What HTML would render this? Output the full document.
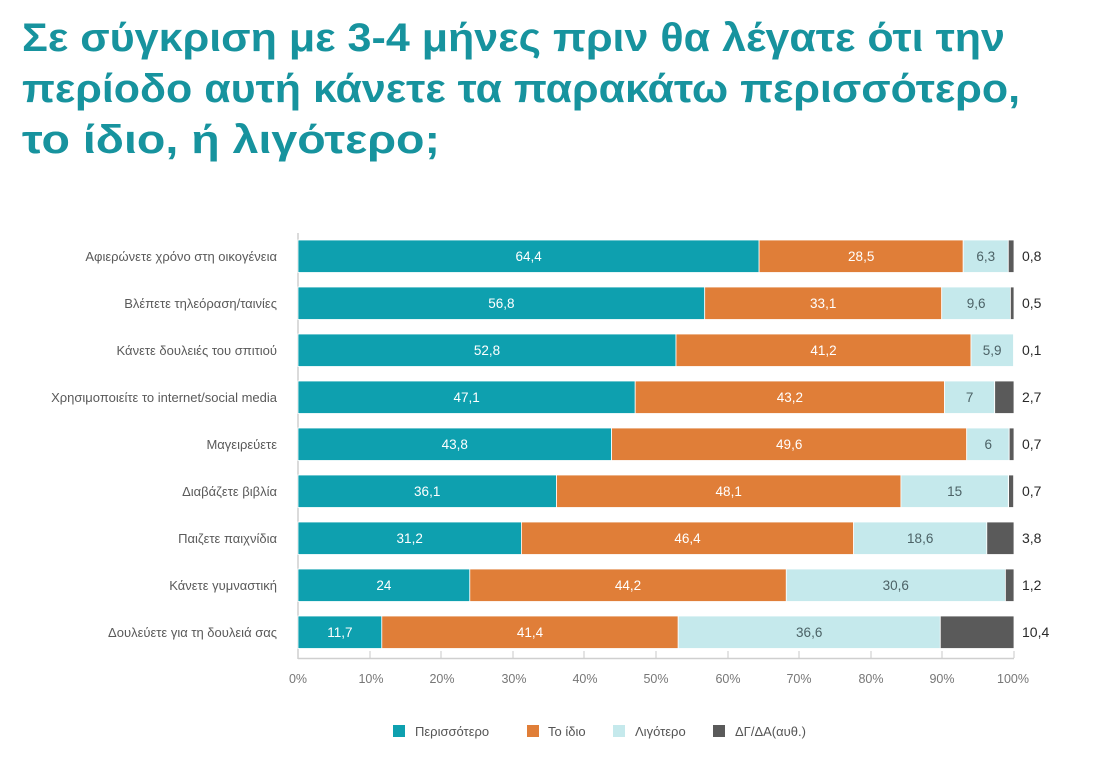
<!DOCTYPE html>
<html>
<head>
<meta charset="utf-8">
<style>
html,body{margin:0;padding:0;background:#fff;}
svg{display:block;}
text{font-family:"Liberation Sans","DejaVu Sans",sans-serif;}
</style>
</head>
<body>
<svg width="1099" height="771" viewBox="0 0 1099 771" xmlns="http://www.w3.org/2000/svg">
<rect width="1099" height="771" fill="#fff"/>
<!-- Title -->
<g fill="#17939E" font-weight="bold" font-size="40">
<text x="22" y="51" textLength="983" lengthAdjust="spacingAndGlyphs">Σε σύγκριση με 3-4 μήνες πριν θα λέγατε ότι την</text>
<text x="22" y="102" textLength="998" lengthAdjust="spacingAndGlyphs">περίοδο αυτή κάνετε τα παρακάτω περισσότερο,</text>
<text x="22" y="153" textLength="418" lengthAdjust="spacingAndGlyphs">το ίδιο, ή λιγότερο;</text>
</g>

<!-- axes -->
<line x1="298" y1="233" x2="298" y2="659" stroke="#cfcfcf" stroke-width="1.5"/>
<line x1="298" y1="658.5" x2="1014" y2="658.5" stroke="#cfcfcf" stroke-width="1.5"/>
<g stroke="#c8c8c8" stroke-width="1">
<line x1="370" y1="651" x2="370" y2="658"/>
<line x1="441" y1="651" x2="441" y2="658"/>
<line x1="513" y1="651" x2="513" y2="658"/>
<line x1="584" y1="651" x2="584" y2="658"/>
<line x1="656" y1="651" x2="656" y2="658"/>
<line x1="728" y1="651" x2="728" y2="658"/>
<line x1="799" y1="651" x2="799" y2="658"/>
<line x1="871" y1="651" x2="871" y2="658"/>
<line x1="942" y1="651" x2="942" y2="658"/>
<line x1="1014" y1="651" x2="1014" y2="658"/>
</g>
<g fill="#777" font-size="12.5" text-anchor="middle">
<text x="298" y="683">0%</text>
<text x="371" y="683">10%</text>
<text x="442" y="683">20%</text>
<text x="514" y="683">30%</text>
<text x="585" y="683">40%</text>
<text x="656" y="683">50%</text>
<text x="728" y="683">60%</text>
<text x="799" y="683">70%</text>
<text x="871" y="683">80%</text>
<text x="942" y="683">90%</text>
<text x="1013" y="683">100%</text>
</g>

<!-- category labels -->
<g fill="#5a5a5a" font-size="13" text-anchor="end">
<text x="277" y="261">Αφιερώνετε χρόνο στη οικογένεια</text>
<text x="277" y="308">Βλέπετε τηλεόραση/ταινίες</text>
<text x="277" y="355">Κάνετε δουλειές του σπιτιού</text>
<text x="277" y="402">Χρησιμοποιείτε το internet/social media</text>
<text x="277" y="449">Μαγειρεύετε</text>
<text x="277" y="496">Διαβάζετε βιβλία</text>
<text x="277" y="543">Παιζετε παιχνίδια</text>
<text x="277" y="590">Κάνετε γυμναστική</text>
<text x="277" y="637">Δουλεύετε για τη δουλειά σας</text>
</g>

<!-- bars -->
<g stroke="#fff" stroke-width="0.8">
<rect x="298" y="240" width="461.1" height="32.5" fill="#0EA0AF"/>
<rect x="759.1" y="240" width="204.1" height="32.5" fill="#E07E38"/>
<rect x="963.2" y="240" width="45.1" height="32.5" fill="#C5E9EC"/>
<rect x="1008.3" y="240" width="5.7" height="32.5" fill="#5A5A5A"/>

<rect x="298" y="287" width="406.7" height="32.5" fill="#0EA0AF"/>
<rect x="704.7" y="287" width="237" height="32.5" fill="#E07E38"/>
<rect x="941.7" y="287" width="68.7" height="32.5" fill="#C5E9EC"/>
<rect x="1010.4" y="287" width="3.6" height="32.5" fill="#5A5A5A"/>

<rect x="298" y="334" width="378" height="32.5" fill="#0EA0AF"/>
<rect x="676" y="334" width="295" height="32.5" fill="#E07E38"/>
<rect x="971" y="334" width="42.5" height="32.5" fill="#C5E9EC"/>

<rect x="298" y="381" width="337.2" height="32.5" fill="#0EA0AF"/>
<rect x="635.2" y="381" width="309.3" height="32.5" fill="#E07E38"/>
<rect x="944.5" y="381" width="50.1" height="32.5" fill="#C5E9EC"/>
<rect x="994.7" y="381" width="19.3" height="32.5" fill="#5A5A5A"/>

<rect x="298" y="428" width="313.6" height="32.5" fill="#0EA0AF"/>
<rect x="611.6" y="428" width="355.1" height="32.5" fill="#E07E38"/>
<rect x="966.7" y="428" width="42.5" height="32.5" fill="#C5E9EC"/>
<rect x="1009.2" y="428" width="4.8" height="32.5" fill="#5A5A5A"/>

<rect x="298" y="475" width="258.5" height="32.5" fill="#0EA0AF"/>
<rect x="556.5" y="475" width="344.4" height="32.5" fill="#E07E38"/>
<rect x="900.9" y="475" width="107.4" height="32.5" fill="#C5E9EC"/>
<rect x="1008.6" y="475" width="5" height="32.5" fill="#5A5A5A"/>

<rect x="298" y="522" width="223.4" height="32.5" fill="#0EA0AF"/>
<rect x="521.4" y="522" width="332.2" height="32.5" fill="#E07E38"/>
<rect x="853.6" y="522" width="133.2" height="32.5" fill="#C5E9EC"/>
<rect x="986.8" y="522" width="27.2" height="32.5" fill="#5A5A5A"/>

<rect x="298" y="569" width="171.8" height="32.5" fill="#0EA0AF"/>
<rect x="469.8" y="569" width="316.5" height="32.5" fill="#E07E38"/>
<rect x="786.3" y="569" width="219.1" height="32.5" fill="#C5E9EC"/>
<rect x="1005.4" y="569" width="8.6" height="32.5" fill="#5A5A5A"/>

<rect x="298" y="616" width="83.8" height="32.5" fill="#0EA0AF"/>
<rect x="381.8" y="616" width="296.4" height="32.5" fill="#E07E38"/>
<rect x="678.2" y="616" width="262.1" height="32.5" fill="#C5E9EC"/>
<rect x="940.3" y="616" width="73.7" height="32.5" fill="#5A5A5A"/>
</g>

<!-- values in bars -->
<g font-size="13.5" text-anchor="middle" fill="#fff">
<text x="528.6" y="261">64,4</text><text x="861.2" y="261">28,5</text>
<text x="501.4" y="308">56,8</text><text x="823.2" y="308">33,1</text>
<text x="487" y="355">52,8</text><text x="823.5" y="355">41,2</text>
<text x="466.6" y="402">47,1</text><text x="789.9" y="402">43,2</text>
<text x="454.8" y="449">43,8</text><text x="789.2" y="449">49,6</text>
<text x="427.2" y="496">36,1</text><text x="728.7" y="496">48,1</text>
<text x="409.7" y="543">31,2</text><text x="687.5" y="543">46,4</text>
<text x="383.9" y="590">24</text><text x="628" y="590">44,2</text>
<text x="339.9" y="637">11,7</text><text x="530" y="637">41,4</text>
</g>
<g font-size="13.5" text-anchor="middle" fill="#4C6266">
<text x="985.8" y="261">6,3</text>
<text x="976.1" y="308">9,6</text>
<text x="992.2" y="355">5,9</text>
<text x="969.6" y="402">7</text>
<text x="988.2" y="449">6</text>
<text x="954.6" y="496">15</text>
<text x="920.2" y="543">18,6</text>
<text x="895.8" y="590">30,6</text>
<text x="809.2" y="637">36,6</text>
</g>
<!-- right values -->
<g font-size="14" fill="#2a2a2a">
<text x="1022" y="261">0,8</text>
<text x="1022" y="308">0,5</text>
<text x="1022" y="355">0,1</text>
<text x="1022" y="402">2,7</text>
<text x="1022" y="449">0,7</text>
<text x="1022" y="496">0,7</text>
<text x="1022" y="543">3,8</text>
<text x="1022" y="590">1,2</text>
<text x="1022" y="637">10,4</text>
</g>

<!-- legend -->
<rect x="393" y="725" width="12" height="12" fill="#0EA0AF"/>
<rect x="527" y="725" width="12" height="12" fill="#E07E38"/>
<rect x="613" y="725" width="12" height="12" fill="#C5E9EC"/>
<rect x="713" y="725" width="12" height="12" fill="#5A5A5A"/>
<g font-size="13" fill="#555">
<text x="415" y="736">Περισσότερο</text>
<text x="548" y="736">Το ίδιο</text>
<text x="635" y="736">Λιγότερο</text>
<text x="735" y="736">ΔΓ/ΔΑ(αυθ.)</text>
</g>
</svg>
</body>
</html>
